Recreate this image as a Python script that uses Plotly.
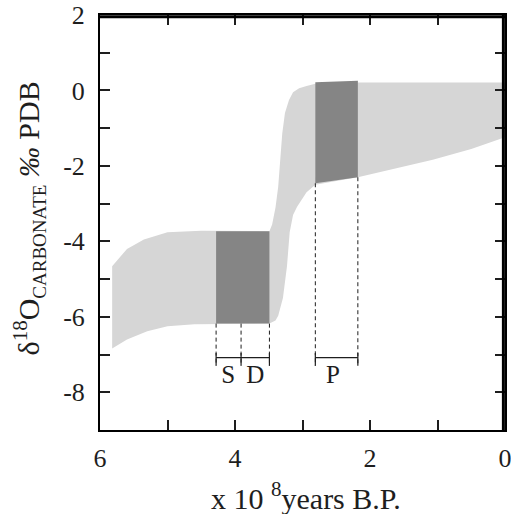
import plotly.graph_objects as go

# Envelope of δ18O values (x = 10^8 years B.P.)
upper_x = [5.82, 5.6, 5.35, 5.0, 4.5, 4.28, 3.49, 3.45, 3.40, 3.36, 3.32, 3.30, 3.26, 3.20, 3.14, 3.05, 2.94, 2.81, 2.5, 2.18, 1.5, 1.0, 0.0]
upper_y = [-4.66, -4.2, -3.95, -3.76, -3.72, -3.72, -3.73, -3.55, -3.1, -2.55, -1.7, -1.14, -0.6, -0.25, -0.05, 0.06, 0.12, 0.18, 0.2, 0.21, 0.21, 0.21, 0.21]
lower_x = [5.82, 5.6, 5.3, 5.0, 4.6, 4.28, 3.49, 3.40, 3.36, 3.29, 3.23, 3.19, 3.14, 3.08, 2.94, 2.81, 2.5, 2.18, 1.6, 1.07, 0.5, 0.0]
lower_y = [-6.84, -6.6, -6.38, -6.25, -6.2, -6.18, -6.18, -6.1, -5.97, -5.5, -4.66, -3.76, -3.3, -3.08, -2.7, -2.5, -2.4, -2.3, -2.05, -1.84, -1.55, -1.24]

# Highlighted periods
sd_x = [4.28, 3.49, 3.49, 4.28]
sd_y = [-3.73, -3.73, -6.18, -6.18]
sd_mid = 3.91
p_x = [2.81, 2.18, 2.18, 2.81]
p_y = [0.22, 0.26, -2.30, -2.46]

bracket_y = -7.08
drop_y = -7.3
labels = ["S", "D", "P"]
label_x = [4.1, 3.7, 2.55]
label_y = -7.6

x_range = [6, 0]
y_range = [-9, 2]
x_ticks = [6, 5, 4, 3, 2, 1, 0]
x_text = ["6", " ", "4", " ", "2", " ", "0"]
y_ticks = [2, 1, 0, -1, -2, -3, -4, -5, -6, -7, -8, -9]
y_text = ["2", " ", "0", " ", "-2", " ", "-4", " ", "-6", " ", "-8", " "]

LIGHT = "#d6d6d6"
DARK = "#858585"
INK = "#1e1e1e"
FONT = "Liberation Serif, Times New Roman, DejaVu Serif, serif"

fig = go.Figure()

fig.add_trace(go.Scatter(
    x=upper_x + lower_x[::-1], y=upper_y + lower_y[::-1],
    fill="toself", fillcolor=LIGHT, line=dict(width=0), mode="lines",
    hoverinfo="skip", showlegend=False))

for px, py in [(sd_x, sd_y), (p_x, p_y)]:
    fig.add_trace(go.Scatter(
        x=px + [px[0]], y=py + [py[0]], fill="toself", fillcolor=DARK,
        line=dict(width=0), mode="lines", hoverinfo="skip", showlegend=False))

# dashed drop lines
drops = [(sd_x[0], sd_y[3]), (sd_mid, sd_y[2]), (sd_x[1], sd_y[2]),
         (p_x[0], p_y[3]), (p_x[1], p_y[2])]
for dx, dy in drops:
    fig.add_trace(go.Scatter(
        x=[dx, dx], y=[dy, drop_y], mode="lines",
        line=dict(color=INK, width=1, dash="4px,3px"),
        hoverinfo="skip", showlegend=False))

# brackets
for bx in [(sd_x[0], sd_x[1]), (p_x[0], p_x[1])]:
    fig.add_trace(go.Scatter(
        x=list(bx), y=[bracket_y, bracket_y], mode="lines",
        line=dict(color=INK, width=1.3), hoverinfo="skip", showlegend=False))
for dx, dy in drops:
    fig.add_trace(go.Scatter(
        x=[dx, dx], y=[bracket_y + 0.12, drop_y], mode="lines",
        line=dict(color=INK, width=1.2), hoverinfo="skip", showlegend=False))

fig.add_trace(go.Scatter(
    x=label_x, y=[label_y] * 3, mode="text", text=labels,
    textfont=dict(family=FONT, size=25, color=INK),
    hoverinfo="skip", showlegend=False))

axis_common = dict(
    showgrid=False, zeroline=False, showline=True, linecolor="black", linewidth=2,
    mirror="ticks", ticks="inside", ticklen=10, tickwidth=1.5, tickcolor=INK,
    tickfont=dict(family=FONT, size=26, color=INK), automargin=False,
    ticklabeloverflow="allow")

fig.update_xaxes(range=x_range, tickmode="array", tickvals=x_ticks, ticktext=x_text,
                 ticklabelstandoff=4, **axis_common)
fig.update_yaxes(range=y_range, tickmode="array", tickvals=y_ticks, ticktext=y_text,
                 ticklabelstandoff=8, **axis_common)

# frame: top and right edges drawn slightly inside the plot area
fig.add_shape(type="line", xref="paper", yref="paper", x0=0, x1=1, y0=0.996, y1=0.996,
              line=dict(color="black", width=3))
fig.add_shape(type="line", xref="paper", yref="paper", x0=0.996, x1=0.996, y0=0, y1=1,
              line=dict(color="black", width=3))

fig.add_annotation(
    text="x 10 <sup>8</sup>years B.P.", xref="paper", yref="paper",
    x=0.508, y=-0.16, xanchor="center", yanchor="middle", showarrow=False,
    font=dict(family=FONT, size=30, color=INK))
fig.add_annotation(
    text="δ<sup>18</sup>O<sub><span style='font-size:19px'>CARBONATE</span></sub> <i>‰</i> PDB",
    xref="paper", yref="paper", x=-0.175, y=0.51, xanchor="center", yanchor="middle",
    textangle=-90, showarrow=False, font=dict(family=FONT, size=30, color=INK))

fig.update_layout(
    width=511, height=514, margin=dict(l=100, r=6, t=15, b=84),
    plot_bgcolor="white", paper_bgcolor="white", showlegend=False)

fig.write_html("out.html", config={"displayModeBar": False},
               post_script="document.body.style.margin='0';document.body.style.overflow='hidden';")
